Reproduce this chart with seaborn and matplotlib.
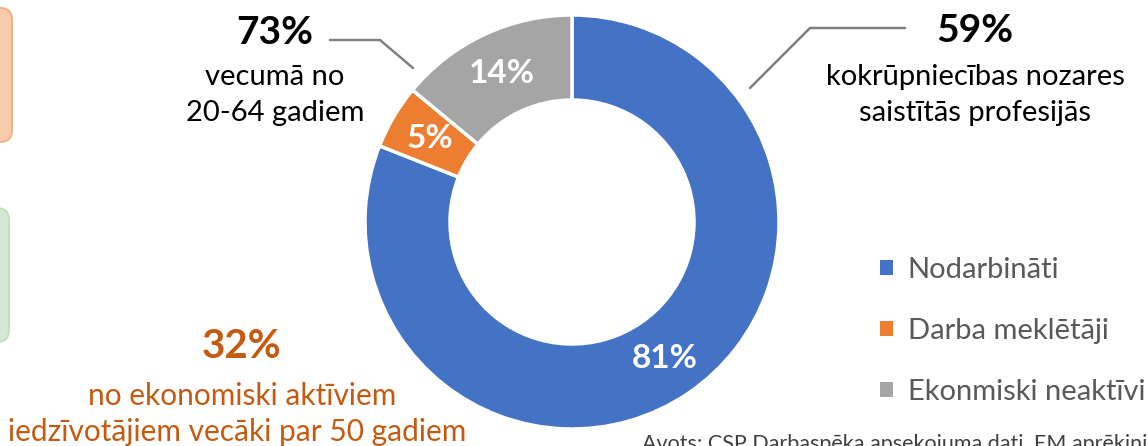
import matplotlib.pyplot as plt
import seaborn as sns
from matplotlib.patches import FancyBboxPatch

# data
categories = ['Nodarbināti', 'Darba meklētāji', 'Ekonmiski neaktīvi']
shares = [81, 5, 14]
colors = ['#4472C4', '#ED7D31', '#A5A5A5']

H = 446  # figure height in px, used to flip y so coordinates read like the picture


def y(px):
    return H - px


sns.set_theme(style="white")
plt.rcParams['font.family'] = ['Lato', 'DejaVu Sans']

fig = plt.figure(figsize=(11.48, 4.46), dpi=100)
ax = fig.add_axes([0, 0, 1, 1])

# donut
wedges, _, autotexts = ax.pie(
    shares, colors=colors, startangle=90, counterclock=False,
    center=(572, y(222)), radius=207, autopct='%1.0f%%', pctdistance=0.795,
    wedgeprops=dict(width=85, edgecolor='white', linewidth=2.5),
    textprops=dict(color='white', fontsize=24, fontweight='bold'))

ax.set_xlim(0, 1148)
ax.set_ylim(0, H)
ax.set_aspect('equal')
ax.axis('off')

# side boxes, cut off at the left edge
ax.add_patch(FancyBboxPatch((-40, y(142)), 52, 134, boxstyle='round,pad=0,rounding_size=12',
                            facecolor='#F8CBAD', edgecolor='#F4B183', linewidth=1.5))
ax.add_patch(FancyBboxPatch((-40, y(342)), 49, 134, boxstyle='round,pad=0,rounding_size=12',
                            facecolor='#D5E8D4', edgecolor='#C5E0B4', linewidth=1.5))

# callout 73%
ax.plot([330, 380, 413], [y(40), y(40), y(68)], color='#808080', lw=1.8)
ax.text(275, y(32), '73%', ha='center', va='center', fontsize=28, fontweight='bold', color='black')
ax.text(275, y(77), 'vecumā no', ha='center', va='center', fontsize=21, color='black')
ax.text(275, y(113), '20-64 gadiem', ha='center', va='center', fontsize=21, color='black')

# callout 59%
ax.plot([750, 810, 905], [y(88), y(28), y(28)], color='#808080', lw=1.8)
ax.text(975, y(30), '59%', ha='center', va='center', fontsize=28, fontweight='bold', color='black')
ax.text(975, y(77), 'kokrūpniecības nozares', ha='center', va='center', fontsize=21, color='black')
ax.text(975, y(113), 'saistītās profesijās', ha='center', va='center', fontsize=21, color='black')

# callout 32%
orange_txt = '#C55A11'
ax.text(242, y(347), '32%', ha='center', va='center', fontsize=29, fontweight='bold', color=orange_txt)
ax.text(242, y(396), 'no ekonomiski aktīviem', ha='center', va='center', fontsize=21.5, color=orange_txt)
ax.text(237, y(432), 'iedzīvotājiem vecāki par 50 gadiem', ha='center', va='center',
        fontsize=21.5, color=orange_txt)

# legend
leg = ax.legend(wedges, categories, loc='upper left', bbox_to_anchor=(880 / 1148, y(257) / H),
                bbox_transform=fig.transFigure, frameon=False, fontsize=21,
                handlelength=0.45, handleheight=0.45, handletextpad=0.5,
                labelspacing=1.2, borderpad=0, borderaxespad=0)
for t in leg.get_texts():
    t.set_color('#595959')
for h in leg.legend_handles:
    h.set_linewidth(0)

# source (cropped at the bottom edge, as in the original)
ax.text(642, y(444), 'Avots: CSP Darbaspēka apsekojuma dati, EM aprēķini', ha='left', va='center',
        fontsize=15.5, color='#404040')

plt.savefig('out.png', dpi=100)
